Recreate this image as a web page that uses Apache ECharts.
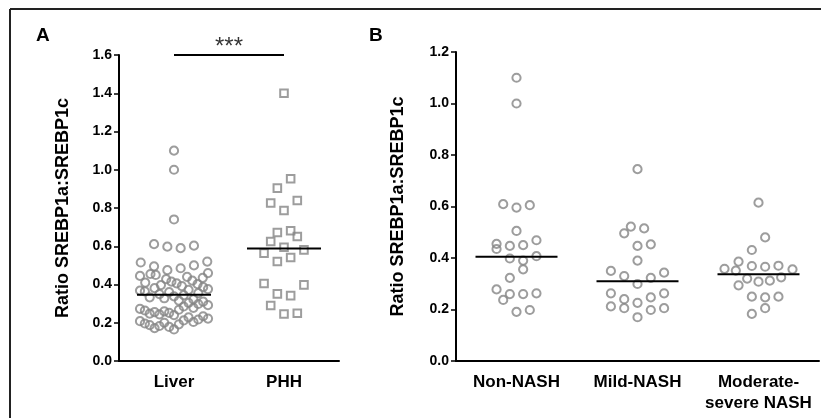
<!DOCTYPE html>
<html>
<head>
<meta charset="utf-8">
<script src="https://cdn.jsdelivr.net/npm/echarts/dist/echarts.min.js"></script>
<style>html,body{margin:0;padding:0;background:#fff;}#c{width:821px;height:418px;}</style>
</head>
<body>
<div id="c"></div>
<script>
// ---------------- data ----------------
const categoriesA = ['Liver', 'PHH'];
const liver = [
  0.165, 0.192, 0.178, 0.212, 0.200, 0.228, 0.183, 0.204, 0.172, 0.217, 0.188, 0.234, 0.196, 0.222, 0.208,
  0.240, 0.268, 0.252, 0.285, 0.260, 0.304, 0.244, 0.278, 0.256, 0.298, 0.248, 0.310, 0.264, 0.292, 0.273,
  0.338, 0.316, 0.360, 0.344, 0.328, 0.372, 0.350, 0.322, 0.381, 0.355, 0.333, 0.386, 0.364, 0.376, 0.368,
  0.406, 0.415, 0.392, 0.428, 0.440, 0.397, 0.420, 0.450, 0.402, 0.455, 0.435, 0.410, 0.460, 0.445,
  0.485, 0.475, 0.500, 0.495, 0.520, 0.515,
  0.590, 0.598, 0.603, 0.611,
  0.74, 1.00, 1.10
];
const phh = [
  0.246, 0.250, 0.290,
  0.342, 0.351, 0.398, 0.405,
  0.541, 0.520, 0.581, 0.564,
  0.595, 0.651, 0.625,
  0.681, 0.672,
  0.787, 0.839, 0.826,
  0.953, 0.904,
  1.40
];
const meanA = [0.347, 0.588];
const sigBar = { from: 0, to: 1, value: 1.6, label: '***' };

const categoriesB = ['Non-NASH', 'Mild-NASH', 'Moderate-\nsevere NASH'];
const nonNash = [
  0.191, 0.198, 0.237,
  0.260, 0.260, 0.263, 0.278,
  0.356, 0.323,
  0.390, 0.398, 0.407, 0.435,
  0.450, 0.447, 0.469, 0.455,
  0.505,
  0.596, 0.605, 0.609,
  1.00, 1.10
];
const mildNash = [
  0.170, 0.198, 0.205, 0.205, 0.212,
  0.226, 0.247, 0.240, 0.263, 0.263,
  0.299, 0.323, 0.330, 0.343, 0.350,
  0.390,
  0.447, 0.453, 0.496,
  0.515, 0.522,
  0.745
];
const modNash = [
  0.205, 0.183,
  0.247, 0.250, 0.250, 0.294,
  0.308, 0.312, 0.320, 0.325, 0.351, 0.356, 0.358,
  0.366, 0.369, 0.370, 0.386,
  0.480, 0.431,
  0.615
];
const meanB = [0.405, 0.310, 0.337];

const yTicksA = { min: 0, max: 1.6, interval: 0.2 };
const yTicksB = { min: 0, max: 1.2, interval: 0.2 };
const yName = 'Ratio SREBP1a:SREBP1c';

// ---------------- layout ----------------
const gridA = { left: 119, top: 55, width: 220, height: 306 };
const gridB = { left: 456, top: 52, width: 363, height: 309 };
const FONT = "'Liberation Sans', Arial, Helvetica, sans-serif";
const GRAY = '#858585';

// Prism-like dot-plot layout: values binned into rows, each row spread symmetrically
function swarm(values, pxPerUnit, binPx, stepPx, maxHalfPx) {
  const idx = values.map((v, i) => i).sort((a, b) => values[a] - values[b] || a - b);
  const offs = new Array(values.length).fill(0);
  let i = 0;
  while (i < idx.length) {
    const start = values[idx[i]];
    let j = i;
    while (j < idx.length && (values[idx[j]] - start) * pxPerUnit < binPx) j++;
    const bin = idx.slice(i, j).sort((a, b) => a - b);
    const n = bin.length;
    const step = n > 1 ? Math.min(stepPx, 2 * maxHalfPx / (n - 1)) : 0;
    bin.forEach((k, m) => {
      let slot;
      if (n % 2 === 1) slot = m === 0 ? 0 : (m % 2 === 1 ? (m + 1) / 2 : -m / 2);
      else { const r = Math.floor(m / 2) + 0.5; slot = m % 2 === 0 ? r : -r; }
      offs[k] = slot * step;
    });
    i = j;
  }
  return offs;
}

function dots(values, catIndex, grid, yMax, nCats) {
  const pxPerUnit = grid.height / yMax;
  const band = grid.width / nCats;
  const offs = swarm(values, pxPerUnit, 13.6, 13.3, 34);
  return values.map((v, k) => [catIndex + offs[k] / band, v]);
}

function meanLine(mean, catIndex, grid, nCats, halfPx) {
  const band = grid.width / nCats;
  const h = halfPx / band;
  return [[catIndex - h, mean], [catIndex + h, mean]];
}

function yAxisCfg(gridIndex, t, gap) {
  return {
    type: 'value', gridIndex, min: t.min, max: t.max, interval: t.interval,
    name: yName, nameLocation: 'middle', nameGap: gap, nameRotate: 90,
    nameTextStyle: { fontFamily: FONT, fontWeight: 'bold', fontSize: 18, color: '#000' },
    axisLine: { show: true, onZero: false, lineStyle: { color: '#000', width: 2 } },
    axisTick: { show: true, length: 5, lineStyle: { color: '#000', width: 1.5 } },
    axisLabel: { fontFamily: FONT, fontWeight: 'bold', fontSize: 14, color: '#000', margin: 7,
      formatter: v => v.toFixed(1) },
    splitLine: { show: false }
  };
}
function catAxisCfg(gridIndex, cats) {
  return {
    type: 'category', gridIndex, data: cats, boundaryGap: true,
    axisLine: { show: true, onZero: false, lineStyle: { color: '#000', width: 2 } },
    axisTick: { show: false },
    axisLabel: { interval: 0, fontFamily: FONT, fontWeight: 'bold', fontSize: 17, color: '#000',
      margin: 11, lineHeight: 21 },
    splitLine: { show: false }
  };
}
function valXAxisCfg(gridIndex, n) {
  return { type: 'value', gridIndex, min: -0.5, max: n - 0.5, show: false };
}

function scatterSeries(data, xi, yi, symbol, size) {
  return {
    type: 'scatter', xAxisIndex: xi, yAxisIndex: yi, data, symbol, symbolSize: size,
    itemStyle: { color: 'rgba(0,0,0,0)', borderColor: GRAY, borderWidth: 2 },
    emphasis: { disabled: true }, z: 2
  };
}
function lineSeries(data, xi, yi) {
  return {
    type: 'line', xAxisIndex: xi, yAxisIndex: yi, data, symbol: 'none', clip: false,
    lineStyle: { color: '#000', width: 2 }, z: 3, silent: true
  };
}

const series = [
  scatterSeries(dots(liver, 0, gridA, yTicksA.max, 2), 1, 0, 'circle', 8.2),
  scatterSeries(dots(phh, 1, gridA, yTicksA.max, 2), 1, 0, 'rect', 7.6),
  lineSeries(meanLine(meanA[0], 0, gridA, 2, 37), 1, 0),
  lineSeries(meanLine(meanA[1], 1, gridA, 2, 37), 1, 0),
  lineSeries([[sigBar.from, sigBar.value], [sigBar.to, sigBar.value]], 1, 0),
  {
    type: 'scatter', xAxisIndex: 1, yAxisIndex: 0, clip: false, symbolSize: 0,
    data: [[(sigBar.from + sigBar.to) / 2, sigBar.value]],
    label: { show: true, formatter: sigBar.label, position: 'top', distance: -4,
      fontFamily: FONT, fontSize: 24, color: '#000' }
  },
  scatterSeries(dots(nonNash, 0, gridB, yTicksB.max, 3), 3, 1, 'circle', 8.2),
  scatterSeries(dots(mildNash, 1, gridB, yTicksB.max, 3), 3, 1, 'circle', 8.2),
  scatterSeries(dots(modNash, 2, gridB, yTicksB.max, 3), 3, 1, 'circle', 8.2),
  lineSeries(meanLine(meanB[0], 0, gridB, 3, 41), 3, 1),
  lineSeries(meanLine(meanB[1], 1, gridB, 3, 41), 3, 1),
  lineSeries(meanLine(meanB[2], 2, gridB, 3, 41), 3, 1)
];

const chart = echarts.init(document.getElementById('c'), null, { renderer: 'canvas' });
chart.setOption({
  animation: false,
  backgroundColor: '#fff',
  title: [
    { text: 'A', left: 31, top: 21, textStyle: { fontFamily: FONT, fontWeight: 'bold', fontSize: 19, color: '#000' } },
    { text: 'B', left: 364, top: 21, textStyle: { fontFamily: FONT, fontWeight: 'bold', fontSize: 19, color: '#000' } }
  ],
  grid: [
    { left: gridA.left, top: gridA.top, width: gridA.width, height: gridA.height, containLabel: false },
    { left: gridB.left, top: gridB.top, width: gridB.width, height: gridB.height, containLabel: false }
  ],
  xAxis: [catAxisCfg(0, categoriesA), valXAxisCfg(0, 2), catAxisCfg(1, categoriesB), valXAxisCfg(1, 3)],
  yAxis: [yAxisCfg(0, yTicksA, 47), yAxisCfg(1, yTicksB, 49)],
  graphic: [
    { type: 'line', shape: { x1: 10, y1: 9, x2: 821, y2: 9 }, style: { stroke: '#222', lineWidth: 2 } },
    { type: 'line', shape: { x1: 10, y1: 9, x2: 10, y2: 418 }, style: { stroke: '#222', lineWidth: 2 } }
  ],
  series
});
</script>
</body>
</html>
